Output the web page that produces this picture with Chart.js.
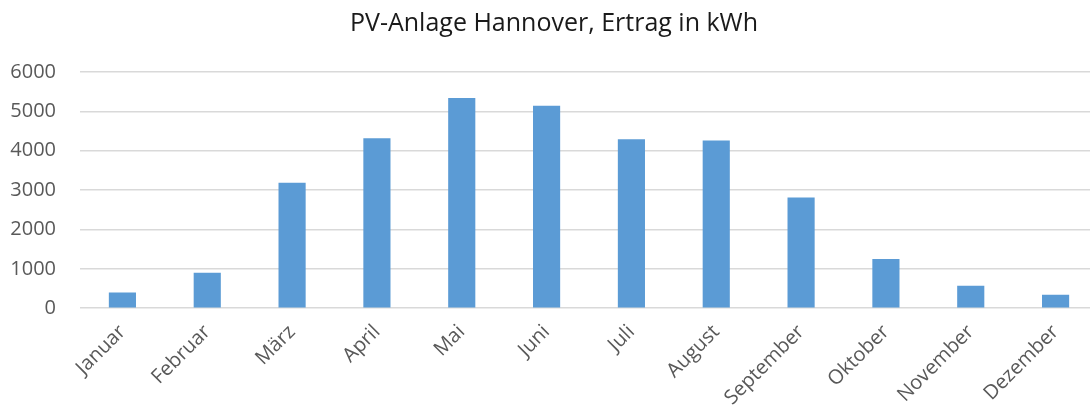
<!DOCTYPE html>
<html>
<head>
<meta charset="utf-8">
<script src="https://cdn.jsdelivr.net/npm/chart.js@4"></script>
<style>
  html, body { margin:0; padding:0; background:#fff; overflow:hidden; }
  #wrap { width:1098px; height:414px; }
</style>
</head>
<body>
<div id="wrap"><canvas id="pvChart"></canvas></div>
<script>
// monthly yield
const months = ['Januar','Februar','März','April','Mai','Juni','Juli','August','September','Oktober','November','Dezember'];
const ertrag = [400, 900, 3190, 4320, 5340, 5140, 4290, 4260, 2810, 1250, 570, 340];
const yTicks = [0, 1000, 2000, 3000, 4000, 5000, 6000];

const font = 'Open Sans';
const ctx = document.getElementById('pvChart').getContext('2d');
new Chart(ctx, {
  type: 'bar',
  data: {
    labels: months,
    datasets: [{ label: 'Ertrag', data: ertrag, backgroundColor: '#5B9BD5', borderWidth: 0,
                 barPercentage: 0.32, categoryPercentage: 1 }]
  },
  options: {
    responsive: true, maintainAspectRatio: false, animation: false,
    layout: { padding: { left: 10, right: 0, top: 0, bottom: 0 } },
    plugins: {
      legend: { display: false },
      tooltip: { enabled: false },
      title: { display: true, text: 'PV-Anlage Hannover, Ertrag in kWh', color: '#1a1a1a',
               font: { family: font, size: 25, weight: 'normal' }, padding: { top: 9, bottom: 33 } }
    },
    scales: {
      x: {
        grid: { display: false }, border: { display: false },
        ticks: { color: '#595959', font: { family: font, size: 20 }, maxRotation: 45, minRotation: 45, padding: 4 }
      },
      y: {
        min: 0, max: 6000,
        afterBuildTicks: (ax) => { ax.ticks = yTicks.map(v => ({ value: v })); },
        afterFit: (s) => { s.width = 70; },   // chart.js counts tick padding twice
        grid: { color: '#D9D9D9', lineWidth: 1.5, drawTicks: false }, border: { display: false },
        ticks: { color: '#595959', font: { family: font, size: 20 }, padding: 24, callback: (v) => String(v) }
      }
    }
  }
});
</script>
</body>
</html>
